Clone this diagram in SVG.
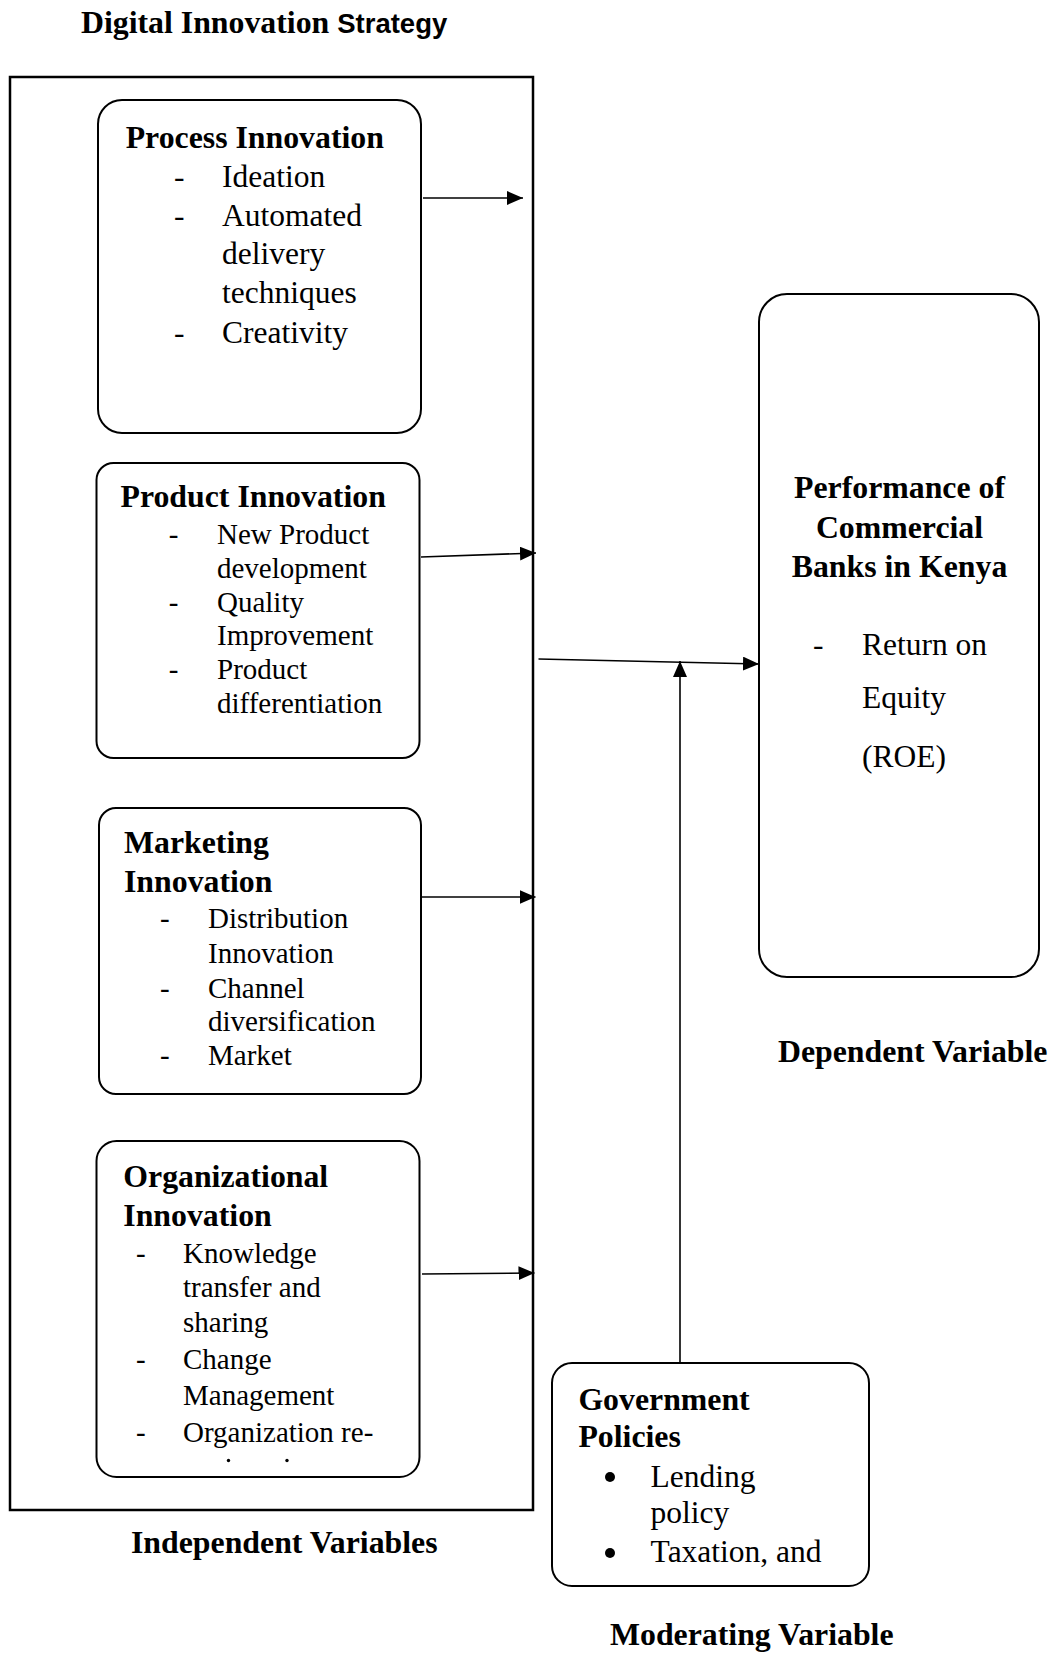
<svg xmlns="http://www.w3.org/2000/svg" width="1059" height="1653" viewBox="0 0 1059 1653">
<defs>
<marker id="ah" markerUnits="userSpaceOnUse" markerWidth="17" markerHeight="14" refX="16" refY="7" orient="auto">
<path d="M0,0 L16,7 L0,14 Z" fill="#000"/>
</marker>
<style>
.bx{fill:#fff;stroke:#000;stroke-width:2}
.b{font-family:"Liberation Serif","Times New Roman",serif;font-weight:bold;font-size:31.8px;fill:#000}
.r{font-family:"Liberation Serif","Times New Roman",serif;font-size:29px;fill:#000}
.r2{font-family:"Liberation Serif","Times New Roman",serif;font-size:31.5px;fill:#000}
.cn{stroke:#000;stroke-width:1.6;fill:none}
</style>
</defs>
<rect width="1059" height="1653" fill="#fff"/>

<g id="labels">
<text class="b" x="81" y="33">Digital Innovation <tspan font-family="'Liberation Sans',Arial,sans-serif" font-size="27.5px">Strategy</tspan></text>
<text class="b" x="131" y="1553">Independent Variables</text>
<text class="b" x="778" y="1062">Dependent Variable</text>
<text class="b" x="610" y="1645">Moderating Variable</text>
</g>

<g id="independent-frame">
<rect x="10" y="77" width="523" height="1433" fill="none" stroke="#000" stroke-width="2.5"/>
</g>

<g id="process-innovation">
<rect class="bx" x="98" y="100" width="323" height="333" rx="24"/>
<text class="b" x="125.7" y="148">Process Innovation</text>
<text class="r2" x="174" y="187">-</text><text class="r2" x="222" y="187">Ideation</text>
<text class="r2" x="174" y="226">-</text><text class="r2" x="222" y="226">Automated</text>
<text class="r2" x="222" y="264">delivery</text>
<text class="r2" x="222" y="303">techniques</text>
<text class="r2" x="174" y="343">-</text><text class="r2" x="222" y="343">Creativity</text>
</g>

<g id="product-innovation">
<rect class="bx" x="96.5" y="463" width="323" height="295" rx="17"/>
<text class="b" x="120.5" y="507">Product Innovation</text>
<text class="r" x="168.7" y="544">-</text><text class="r" x="217" y="544">New Product</text>
<text class="r" x="217" y="578">development</text>
<text class="r" x="168.7" y="612">-</text><text class="r" x="217" y="612">Quality</text>
<text class="r" x="217" y="645">Improvement</text>
<text class="r" x="168.7" y="679">-</text><text class="r" x="217" y="679">Product</text>
<text class="r" x="217" y="713">differentiation</text>
</g>

<g id="marketing-innovation">
<rect class="bx" x="99" y="808" width="322" height="286" rx="17"/>
<text class="b" x="124" y="853">Marketing</text>
<text class="b" x="124" y="892">Innovation</text>
<text class="r" x="160" y="928">-</text><text class="r" x="208" y="928">Distribution</text>
<text class="r" x="208" y="963">Innovation</text>
<text class="r" x="160" y="998">-</text><text class="r" x="208" y="998">Channel</text>
<text class="r" x="208" y="1031">diversification</text>
<text class="r" x="160" y="1065">-</text><text class="r" x="208" y="1065">Market</text>
</g>

<g id="organizational-innovation">
<rect class="bx" x="96.5" y="1141" width="323" height="336" rx="20"/>
<text class="b" x="123.3" y="1187">Organizational</text>
<text class="b" x="123.3" y="1226">Innovation</text>
<text class="r" x="136" y="1263">-</text><text class="r" x="183" y="1263">Knowledge</text>
<text class="r" x="183" y="1297">transfer and</text>
<text class="r" x="183" y="1332">sharing</text>
<text class="r" x="136" y="1369">-</text><text class="r" x="183" y="1369">Change</text>
<text class="r" x="183" y="1405">Management</text>
<text class="r" x="136" y="1442">-</text><text class="r" x="183" y="1442">Organization re-</text>
<circle cx="228.5" cy="1460.5" r="1.7" fill="#000"/>
<circle cx="287" cy="1460.5" r="1.7" fill="#000"/>
</g>

<g id="performance">
<rect class="bx" x="759" y="294" width="280" height="683" rx="28"/>
<text class="b" x="899.5" y="498" text-anchor="middle">Performance of</text>
<text class="b" x="899.5" y="538" text-anchor="middle">Commercial</text>
<text class="b" x="899.5" y="577" text-anchor="middle">Banks in Kenya</text>
<text class="r2" x="813" y="655">-</text><text class="r2" x="862" y="655">Return on</text>
<text class="r2" x="862" y="708">Equity</text>
<text class="r2" x="862" y="767">(ROE)</text>
</g>

<g id="government-policies">
<rect class="bx" x="552" y="1363" width="317" height="223" rx="20"/>
<text class="b" x="578.4" y="1410">Government</text>
<text class="b" x="578.4" y="1447">Policies</text>
<circle cx="610" cy="1477" r="5" fill="#000"/>
<text class="r2" x="650.6" y="1487">Lending</text>
<text class="r2" x="650.6" y="1523">policy</text>
<circle cx="610" cy="1553" r="5" fill="#000"/>
<text class="r2" x="650.6" y="1562">Taxation, and</text>
</g>

<g id="connectors">
<line class="cn" x1="423" y1="198" x2="523" y2="198" marker-end="url(#ah)"/>
<line class="cn" x1="421" y1="557" x2="536" y2="553" marker-end="url(#ah)"/>
<line class="cn" x1="422" y1="897" x2="535.5" y2="897" marker-end="url(#ah)"/>
<line class="cn" x1="422" y1="1274" x2="534.5" y2="1273" marker-end="url(#ah)"/>
<line class="cn" x1="538.5" y1="659" x2="759" y2="664" marker-end="url(#ah)"/>
<line class="cn" x1="680" y1="1363" x2="680" y2="661" marker-end="url(#ah)"/>
</g>
</svg>
